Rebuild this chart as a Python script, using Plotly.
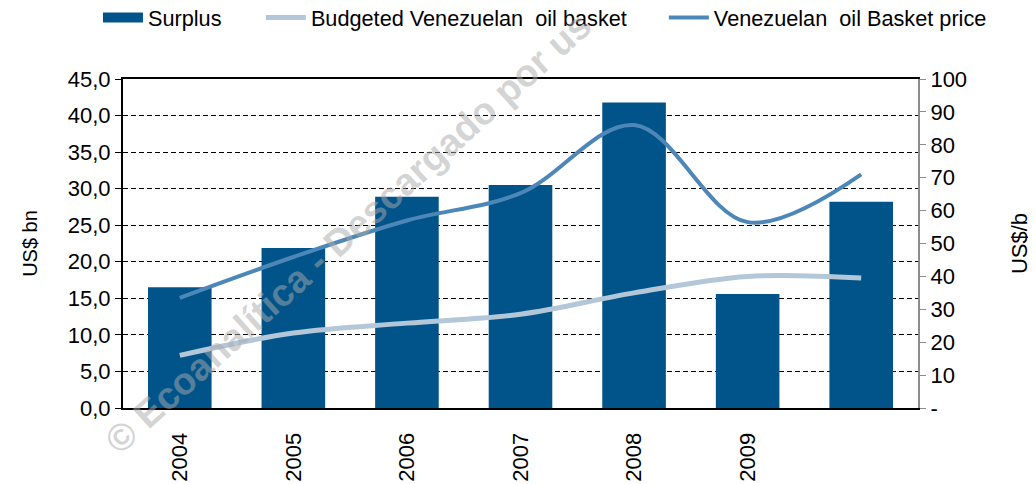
import plotly.graph_objects as go

years = [2004, 2005, 2006, 2007, 2008, 2009, 2010]
year_labels = ["2004", "2005", "2006", "2007", "2008", "2009", ""]
surplus = [16.5, 21.9, 28.9, 30.5, 41.8, 15.6, 28.2]
budgeted = [16.0, 22.8, 25.8, 28.5, 35.0, 40.0, 39.5]
basket = [33.5, 45.9, 57.0, 65.3, 86.0, 56.5, 71.0]

left_ticks = [0, 5, 10, 15, 20, 25, 30, 35, 40, 45]
right_ticks = [0, 10, 20, 30, 40, 50, 60, 70, 80, 90, 100]
right_labels = ["-", "10", "20", "30", "40", "50", "60", "70", "80", "90", "100"]

BAR = "#01548A"
BUDGET = "#B3C7D8"
BASKET = "#4D87B7"
FONT = "Liberation Sans, Arial, sans-serif"

fig = go.Figure()
fig.add_trace(go.Bar(x=years, y=surplus, name="Surplus", marker=dict(color=BAR, line=dict(width=0)),
                     width=0.56, showlegend=False, yaxis="y"))
# legend proxy for the bar (wide rectangle swatch)
fig.add_trace(go.Scatter(x=[None], y=[None], mode="lines", name="Surplus",
                         line=dict(color=BAR, width=12), yaxis="y", legend="legend"))
fig.add_trace(go.Scatter(x=years, y=budgeted, mode="lines", name="Budgeted Venezuelan  oil basket",
                         line=dict(color=BUDGET, width=5, shape="spline", smoothing=1), yaxis="y2",
                         legend="legend2"))
fig.add_trace(go.Scatter(x=years, y=basket, mode="lines", name="Venezuelan  oil Basket price",
                         line=dict(color=BASKET, width=4, shape="spline", smoothing=1), yaxis="y2",
                         legend="legend3"))

leg_common = dict(orientation="h", xanchor="left", yref="container", y=0.979, yanchor="middle",
                  xref="container", font=dict(size=21.7, family=FONT), itemwidth=40,
                  bgcolor="rgba(0,0,0,0)", borderwidth=0)

fig.update_layout(
    width=1028, height=476,
    margin=dict(l=115, r=118, t=71, b=76, autoexpand=False),
    paper_bgcolor="white", plot_bgcolor="white",
    separators=",.",
    font=dict(family=FONT, size=22, color="black"),
    showlegend=True,
    legend=dict(x=0.0875, **leg_common),
    legend2=dict(x=0.246, **leg_common),
    legend3=dict(x=0.638, **leg_common),
    xaxis=dict(range=[2003.5, 2010.5], tickmode="array", tickvals=years, ticktext=year_labels,
               tickangle=-90, showline=True, linecolor="black", linewidth=2, mirror=True,
               ticks="", showgrid=False, zeroline=False, tickfont=dict(size=22),
               ticklabelstandoff=14, automargin=False),
    yaxis=dict(range=[0, 45], tickmode="array", tickvals=left_ticks, tickformat=".1f",
               showline=True, linecolor="black", linewidth=2, ticks="outside", ticklen=6,
               tickcolor="black", showgrid=True, gridcolor="black", griddash="5px,3px", gridwidth=1,
               zeroline=False, tickfont=dict(size=22), automargin=False,
               title=dict(text="US$ bn", font=dict(size=20), standoff=25)),
    yaxis2=dict(range=[0, 100], overlaying="y", side="right", tickmode="array",
                tickvals=right_ticks, ticktext=right_labels, showline=True, linecolor="#8C8C8C",
                linewidth=2, ticks="outside", ticklen=6, tickcolor="#8C8C8C", showgrid=False,
                zeroline=False, tickfont=dict(size=22), automargin=False,
                title=dict(text="US$/b", font=dict(size=22), standoff=45)),
)

fig.add_annotation(text="<b>© Ecoanalítica - Descargado por us</b>", xref="paper", yref="paper",
                   x=0.283, y=0.532, showarrow=False, textangle=-42,
                   font=dict(family=FONT, size=38, color="rgba(170,170,170,0.5)"),
                   xanchor="center", yanchor="middle")

fig.write_html("out.html")
